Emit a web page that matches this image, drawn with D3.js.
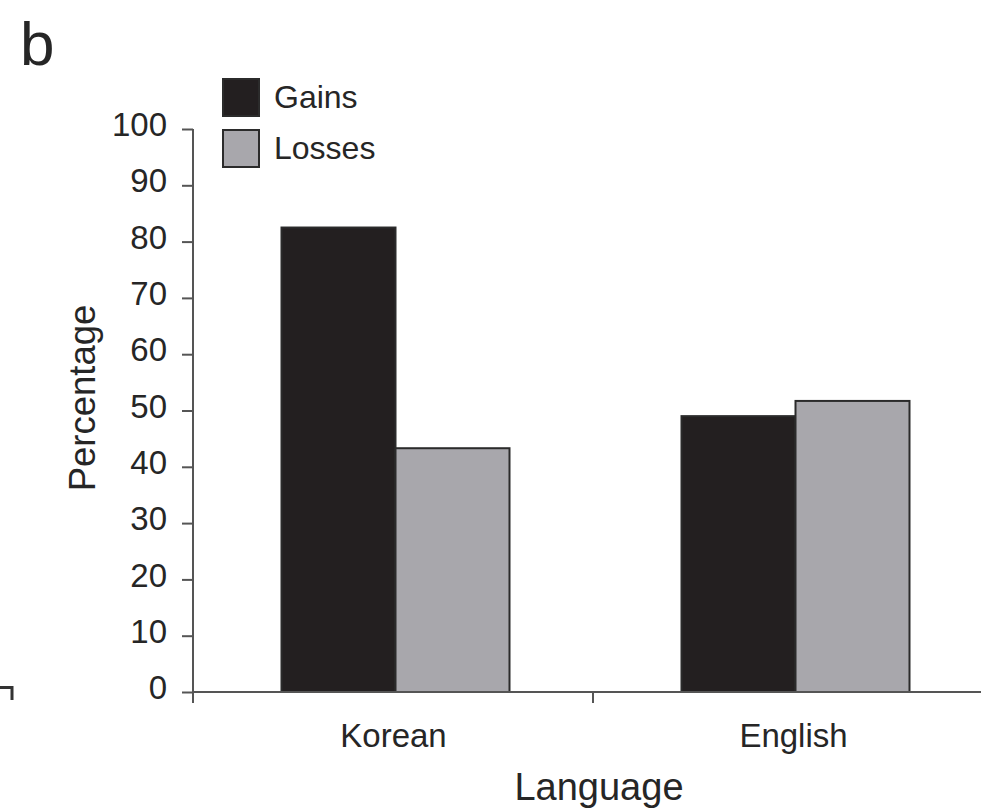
<!DOCTYPE html>
<html>
<head>
<meta charset="utf-8">
<script src="https://cdn.jsdelivr.net/npm/d3@7"></script>
<style>
  html, body { margin: 0; padding: 0; background: #fff; }
  svg { display: block; font-family: "Liberation Sans", Arial, Helvetica, sans-serif; }
</style>
</head>
<body>
<svg id="chart" width="981" height="811"></svg>
<script>
// Share of responses by presentation language
const languages = ["Korean", "English"];
const series = ["Gains", "Losses"];
const gains = [82.5, 49];
const losses = [43.3, 51.7];
const yTicks = [0, 10, 20, 30, 40, 50, 60, 70, 80, 90, 100];

const colors = { Gains: "#231f20", Losses: "#a8a7ac" };
const ink = "#262626";
const axisInk = "#555";

const rows = languages.map((lang, i) => ({ lang, Gains: gains[i], Losses: losses[i] }));

const svg = d3.select("#chart");

const y = d3.scaleLinear().domain([0, 100]).range([692, 129]);
const x0 = d3.scaleBand().domain(languages).range([193.5, 993.5]).padding(0);
const groupW = 228;
const x1 = d3.scaleBand().domain(series).range([0, groupW]).padding(0);
const groupOffset = (x0.bandwidth() - groupW) / 2 + 2;

// Panel letter
svg.append("text")
  .attr("x", 20).attr("y", 65)
  .attr("font-size", 62)
  .attr("fill", ink)
  .text("b");

// Corner of the neighbouring panel's axis
svg.append("path")
  .attr("d", "M0,687.5H12V700")
  .attr("fill", "none")
  .attr("stroke", "#333")
  .attr("stroke-width", 3);

// Bars
const groups = svg.append("g").selectAll("g")
  .data(rows)
  .join("g")
  .attr("transform", d => `translate(${x0(d.lang) + groupOffset},0)`);

groups.selectAll("rect")
  .data(d => series.map(s => ({ s, v: d[s] })))
  .join("rect")
  .attr("x", d => x1(d.s))
  .attr("y", d => y(d.v))
  .attr("width", x1.bandwidth())
  .attr("height", d => y(0) - y(d.v))
  .attr("fill", d => colors[d.s])
  .attr("stroke", "#2b2b2b")
  .attr("stroke-width", 2);

// Y axis
const yAxis = svg.append("g")
  .attr("transform", "translate(193,0)")
  .call(d3.axisLeft(y).tickValues(yTicks).tickSize(11).tickSizeOuter(0).tickPadding(15));
yAxis.select(".domain").remove();
yAxis.selectAll(".tick line").attr("stroke", axisInk).attr("stroke-width", 2);
yAxis.selectAll(".tick text")
  .attr("font-size", 33)
  .attr("font-family", "Liberation Sans, Arial, sans-serif")
  .attr("fill", ink)
  .attr("dy", "0.2em");
svg.append("line")
  .attr("x1", 193).attr("x2", 193)
  .attr("y1", y(100)).attr("y2", y(0) + 11)
  .attr("stroke", axisInk).attr("stroke-width", 2);

// X axis baseline with ticks at category boundaries
svg.append("line")
  .attr("x1", 193).attr("x2", 981)
  .attr("y1", y(0)).attr("y2", y(0))
  .attr("stroke", axisInk).attr("stroke-width", 2);
svg.append("g").selectAll("line")
  .data(languages.slice(1))
  .join("line")
  .attr("x1", d => x0(d) - 0.5).attr("x2", d => x0(d) - 0.5)
  .attr("y1", y(0)).attr("y2", y(0) + 11)
  .attr("stroke", axisInk).attr("stroke-width", 2);

svg.append("g").selectAll("text")
  .data(languages)
  .join("text")
  .attr("x", d => x0(d) + x0.bandwidth() / 2)
  .attr("y", 747)
  .attr("text-anchor", "middle")
  .attr("font-size", 33)
  .attr("fill", ink)
  .text(d => d);

// Axis titles
svg.append("text")
  .attr("x", 599).attr("y", 800)
  .attr("text-anchor", "middle")
  .attr("font-size", 38)
  .attr("fill", ink)
  .text("Language");

svg.append("text")
  .attr("transform", "translate(95,398) rotate(-90)")
  .attr("text-anchor", "middle")
  .attr("font-size", 36.5)
  .attr("fill", ink)
  .text("Percentage");

// Legend
const legend = svg.append("g").selectAll("g")
  .data(series)
  .join("g")
  .attr("transform", (d, i) => `translate(223,${79 + i * 51})`);
legend.append("rect")
  .attr("width", 36).attr("height", 37)
  .attr("fill", d => colors[d])
  .attr("stroke", "#2b2b2b").attr("stroke-width", 2);
legend.append("text")
  .attr("x", 51).attr("y", 29)
  .attr("font-size", 32)
  .attr("fill", ink)
  .text(d => d);
</script>
</body>
</html>
